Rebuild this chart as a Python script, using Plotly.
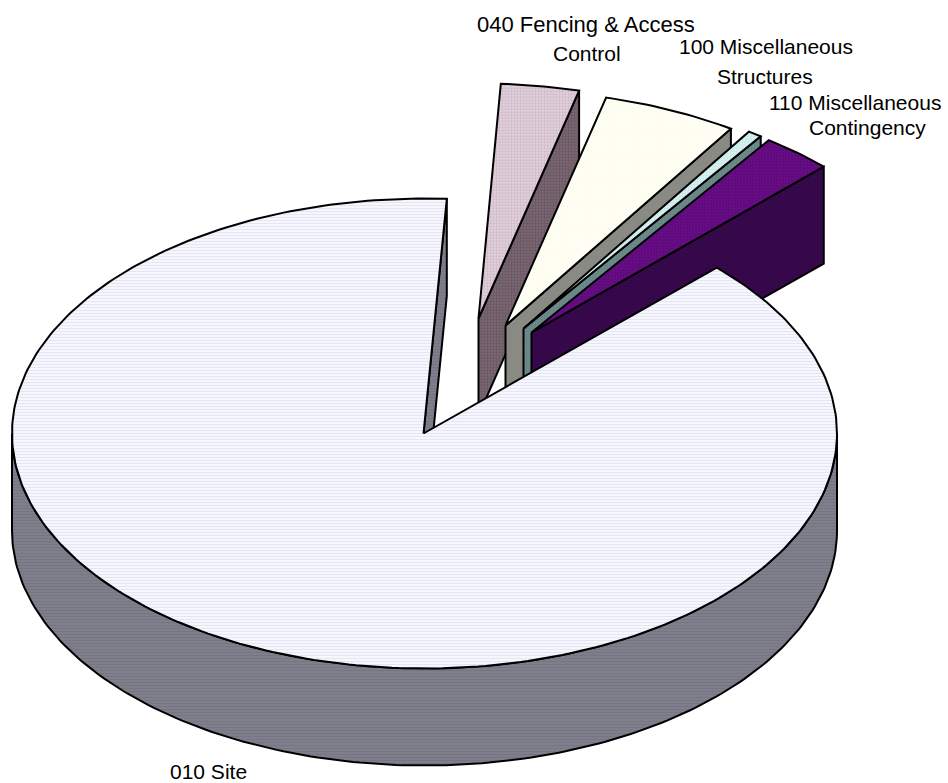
import math
import plotly.graph_objects as go

# Data: share of each category (percent)
categories = ["010 Site", "040 Fencing & Access Control", "100 Miscellaneous Structures", "", "110 Miscellaneous Contingency"]
values = [88.33, 3.06, 5.28, 0.55, 2.78]
label_lines = [
    ("010 Site", 208, 771, 21),
    ("040 Fencing & Access", 586, 24, 22),
    ("Control", 587, 53, 21),
    ("100 Miscellaneous", 765.5, 46, 21),
    ("Structures", 765, 76, 21),
    ("110 Miscellaneous", 855, 102.5, 21),
    ("Contingency", 867, 127, 21),
]

# Geometry of the drawing (pixels)
CX, CY, RX, RY, DEPTH = 424.5, 433.5, 412.5, 235, 97
START = 3.1
OFFSETS = [(0, 0), (54, -115), (81, -108), (99, -105), (107, -101)]
TOP = ["#fbfbff", "#e2d2dd", "#fdfdf4", "#daf1f1", "#5e0878"]
TOP_FG = ["#cfcfee", "#b8a2b4", "#fffff0", "#b4dede", "#74149a"]
WALL = ["#80808c", "#7a6872", "#8a8a84", "#6f8c8c", "#38084c"]
WALL_FG = ["#6a6a7c", "#584452", "#8a8a84", "#587676", "#2c0440"]

total = sum(values)
spans = [v / total * 360 for v in values]
order_start = {}
a = START
for i in [1, 2, 3, 4, 0]:
    order_start[i] = a
    a += spans[i]


def pt(angle, dx=0, dy=0, down=0):
    r = math.radians(angle)
    return CX + dx + RX * math.sin(r), CY + dy - RY * math.cos(r) + down


def arc(a0, a1, dx=0, dy=0, down=0, step=1.0):
    n = max(2, int(abs(a1 - a0) / step) + 1)
    return [pt(a0 + (a1 - a0) * k / (n - 1), dx, dy, down) for k in range(n)]


fig = go.Figure()


def poly(points, fill, fg, shape, size, solidity):
    pts = list(points) + [points[0]]
    fig.add_trace(go.Scatter(
        x=[p[0] for p in pts], y=[p[1] for p in pts],
        mode="lines", fill="toself", fillcolor=fill,
        fillpattern=dict(shape=shape, size=size, solidity=solidity, fgcolor=fg, bgcolor=fill),
        line=dict(color="#000000", width=2), hoverinfo="skip", showlegend=False,
    ))


# site: cut wall visible inside the gap
s0 = order_start[0]
s1 = s0 + spans[0]
centre = (CX - 1, CY)
poly([centre, pt(START), pt(START, down=DEPTH), (CX - 1, CY + DEPTH)], WALL[0], WALL_FG[0], "-", 3, 0.45)

# exploded slices, back to front
for i in [1, 2, 3, 4]:
    dx, dy = OFFSETS[i]
    a0, a1 = order_start[i], order_start[i] + spans[i]
    apex = (CX + dx, CY + dy)
    e = pt(a1, dx, dy)
    poly([apex, e, (e[0], e[1] + DEPTH), (apex[0], apex[1] + DEPTH)], WALL[i], WALL_FG[i], ".", 3, 0.45)
    poly([apex] + arc(a0, a1, dx, dy), TOP[i], TOP_FG[i], ".", 3, 0.45)

# site: front wall
front = arc(90, 270)
poly(front + arc(270, 90, down=DEPTH), WALL[0], WALL_FG[0], "-", 3, 0.45)
# site: top
poly([centre] + arc(s0, s1), TOP[0], TOP_FG[0], "-", 3, 0.5)

for text, x, y, size in label_lines:
    fig.add_annotation(x=x, y=y, text=text, showarrow=False, xanchor="center", yanchor="middle", borderpad=0,
                       font=dict(family="Liberation Sans", size=size, color="#000000"))

fig.update_layout(
    width=948, height=783, autosize=False, margin=dict(l=0, r=0, t=0, b=0),
    paper_bgcolor="#ffffff", plot_bgcolor="#ffffff", showlegend=False,
    xaxis=dict(range=[0, 948], visible=False, fixedrange=True),
    yaxis=dict(range=[783, 0], visible=False, fixedrange=True),
)
fig.write_html("out.html", post_script="document.body.style.margin='0';", config={"displayModeBar": False})
